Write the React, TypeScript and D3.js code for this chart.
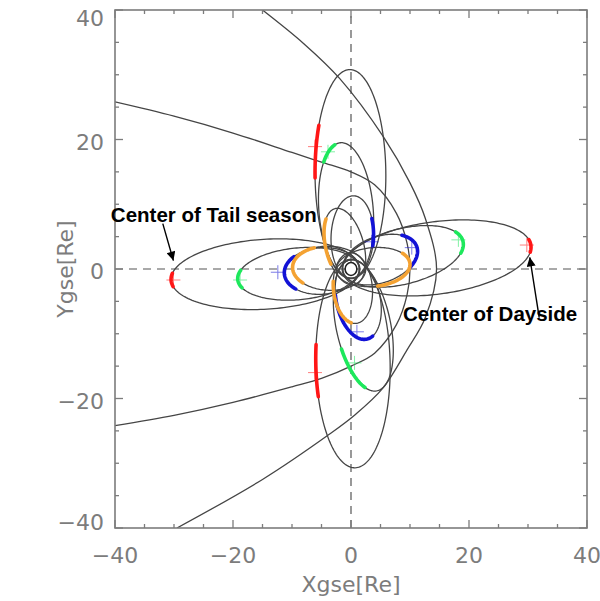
import React from "react";
import * as d3 from "d3";

const W = 600;
const H = 601;
const plot = { left: 115, right: 587, top: 10, bottom: 528 };

// orbit apogee [X, Y] in Re, perigee distance, projected half-width
const tailOrbits = [
  { id: "T1", apo: [-30.5, -1.7], rp: 1.5, b: 5.4 },
  { id: "T2", apo: [-19.2, -1.6], rp: 1.4, b: 4.0 },
  { id: "T3", apo: [-11.3, -0.7], rp: 1.4, b: 3.6 },
  { id: "T4", apo: [-9.9, 0.3], rp: 2.5, b: 3.4 },
];
const daysideOrbits = [
  { id: "D1", apo: [30.5, 3.6], rp: 1.5, b: 5.6 },
  { id: "D2", apo: [19.0, 4.2], rp: 1.4, b: 4.3 },
  { id: "D3", apo: [11.2, 3.3], rp: 1.4, b: 3.6 },
  { id: "D4", apo: [10.0, 0.8], rp: 2.5, b: 3.0 },
];
const duskOrbits = [
  { id: "K1", apo: [-0.2, 30.8], rp: 1.5, b: 6.0 },
  { id: "K2", apo: [-1.8, 19.5], rp: 1.4, b: 4.6 },
  { id: "K3", apo: [0.5, 11.3], rp: 1.4, b: 3.6 },
  { id: "K4", apo: [-2.8, 9.3], rp: 2.5, b: 3.2 },
];
const dawnOrbits = [
  { id: "W1", apo: [0.7, -30.7], rp: 1.5, b: 6.3 },
  { id: "W2", apo: [4.5, -18.8], rp: 1.4, b: 4.6 },
  { id: "W3", apo: [2.8, -10.8], rp: 1.4, b: 3.7 },
  { id: "W4", apo: [0.9, -8.4], rp: 2.5, b: 3.3 },
];

// thick coloured stretches along the orbits (orbit angle from apogee, deg)
const arcs = [
  { orbit: "D1", from: -10, to: 10, color: "red" },
  { orbit: "T1", from: -11, to: 11, color: "red" },
  { orbit: "K1", from: 62, to: 92, color: "red" },
  { orbit: "W1", from: -101, to: -72, color: "red" },
  { orbit: "D2", from: -22, to: 24, color: "green" },
  { orbit: "T2", from: -20, to: 20, color: "green" },
  { orbit: "K2", from: 12, to: 42, color: "green" },
  { orbit: "W2", from: -75, to: -25, color: "green" },
  { orbit: "D3", from: -45, to: 45, color: "blue" },
  { orbit: "T3", from: -44, to: 44, color: "blue" },
  { orbit: "K3", from: -101, to: -62, color: "blue" },
  { orbit: "W3", from: -105, to: 15, color: "blue" },
  { orbit: "T4", from: -65, to: 45, color: "orange" },
  { orbit: "D4", from: -85, to: 35, color: "orange" },
  { orbit: "K4", from: 35, to: 108, color: "orange" },
  { orbit: "W4", from: -105, to: -15, color: "orange" },
];

const markers = [
  { x: 29.8, y: 3.7, color: "red" },
  { x: -30.1, y: -1.7, color: "red" },
  { x: -6.1, y: 18.9, color: "red" },
  { x: -6.1, y: -16.0, color: "red" },
  { x: 18.2, y: 4.5, color: "green" },
  { x: -18.8, y: -1.7, color: "green" },
  { x: -3.9, y: 18.1, color: "green" },
  { x: 0.6, y: -14.5, color: "green" },
  { x: 10.3, y: 3.3, color: "blue" },
  { x: -12.4, y: -0.5, color: "blue" },
  { x: 3.5, y: 4.2, color: "blue" },
  { x: 1.0, y: -9.7, color: "blue" },
];

const magnetopause = [
  [-40, 25.8], [-30, 23.6], [-20, 21.0], [-10, 18.0], [-5, 16.5], [0, 15.0],
  [4, 13.0], [7.7, 8.6], [9.5, 4.0], [10, 0], [9.5, -4.0], [7.7, -8.6],
  [4, -13.0], [0, -15.0], [-5, -16.9], [-10, -18.2], [-20, -20.6],
  [-30, -22.6], [-40, -24.2],
];
const bowShock = [
  [-15, 40], [-8, 34.8], [-1.9, 29.4], [5.5, 20.4], [10, 13.3], [12.6, 7.8],
  [14.5, 0], [12.6, -7.5], [9.5, -12.5], [5.4, -18.4], [0.7, -22.5],
  [-3.8, -25.6], [-15, -32.5], [-29.5, -40],
];

const notes = [
  { text: "Center of Tail season", x: -40.7, y: 7.3, from: [-31.9, 7.0], to: [-30.1, 1.3] },
  { text: "Center of Dayside", x: 8.8, y: -8.0, from: [31.9, -7.5], to: [30.3, 1.8] },
];

const majorTicks = [-40, -20, 0, 20, 40];
const minorTicks = d3.range(-40, 41, 5);

const colors: Record<string, string> = {
  red: "#ff1616",
  green: "#1de85c",
  blue: "#1212d6",
  orange: "#f4a232",
};

const orbits = [...tailOrbits, ...daysideOrbits, ...duskOrbits, ...dawnOrbits];
const orbitById = new Map(orbits.map((o) => [o.id, o]));

function orbitPoints(o: any, t0 = 0, t1 = 360): [number, number][] {
  const [ax, ay] = o.apo;
  const ra = Math.hypot(ax, ay);
  const ux = ax / ra;
  const uy = ay / ra;
  const vx = -uy;
  const vy = ux;
  const a = (ra + o.rp) / 2;
  const cx = (ux * (ra - o.rp)) / 2;
  const cy = (uy * (ra - o.rp)) / 2;
  const n = Math.max(4, Math.ceil(Math.abs(t1 - t0) / 2));
  return d3.range(n + 1).map((i) => {
    const t = ((t0 + ((t1 - t0) * i) / n) * Math.PI) / 180;
    return [
      cx + a * Math.cos(t) * ux + o.b * Math.sin(t) * vx,
      cy + a * Math.cos(t) * uy + o.b * Math.sin(t) * vy,
    ];
  });
}

export default function App() {
  const x = d3.scaleLinear().domain([-40, 40]).range([plot.left, plot.right]);
  const y = d3.scaleLinear().domain([-40, 40]).range([plot.bottom, plot.top]);

  const line = d3
    .line<[number, number]>()
    .x((d) => x(d[0]))
    .y((d) => y(d[1]));
  const smooth = d3
    .line<number[]>()
    .x((d) => x(d[0]))
    .y((d) => y(d[1]))
    .curve(d3.curveCatmullRom);

  const axisColor = "#7c7c7c";
  const labelFont = "DejaVu Sans, sans-serif";

  return (
    <svg
      width={W}
      height={H}
      style={{ position: "absolute", left: 0, top: 0, background: "#fff" }}
    >
      <defs>
        <clipPath id="plotClip">
          <rect
            x={plot.left}
            y={plot.top}
            width={plot.right - plot.left}
            height={plot.bottom - plot.top}
          />
        </clipPath>
        <marker
          id="head"
          viewBox="0 0 10 10"
          refX="10"
          refY="5"
          markerWidth="11"
          markerHeight="9"
          markerUnits="userSpaceOnUse"
          orient="auto"
        >
          <path d="M0,0 L10,5 L0,10 z" fill="#000" />
        </marker>
      </defs>

      <g clipPath="url(#plotClip)">
        {/* zero lines */}
        <line
          x1={x(0)}
          x2={x(0)}
          y1={y(-40)}
          y2={y(40)}
          stroke="#555"
          strokeWidth={1.2}
          strokeDasharray="8,6"
        />
        <line
          x1={x(-40)}
          x2={x(40)}
          y1={y(0)}
          y2={y(0)}
          stroke="#555"
          strokeWidth={1.2}
          strokeDasharray="8,6"
        />

        {/* orbits */}
        {orbits.map((o) => (
          <path
            key={o.id}
            d={line(orbitPoints(o)) || ""}
            fill="none"
            stroke="#454545"
            strokeWidth={1.3}
          />
        ))}

        {/* boundaries */}
        <path d={smooth(magnetopause) || ""} fill="none" stroke="#454545" strokeWidth={1.3} />
        <path d={smooth(bowShock) || ""} fill="none" stroke="#454545" strokeWidth={1.3} />

        {/* coloured arcs */}
        {arcs.map((a, i) => (
          <path
            key={i}
            d={line(orbitPoints(orbitById.get(a.orbit), a.from, a.to)) || ""}
            fill="none"
            stroke={colors[a.color]}
            strokeWidth={3.6}
            strokeLinecap="round"
          />
        ))}

        {/* position crosses */}
        {markers.map((m, i) => (
          <g key={i} stroke={colors[m.color]} strokeWidth={1} opacity={0.55}>
            <line x1={x(m.x) - 7} x2={x(m.x) + 7} y1={y(m.y)} y2={y(m.y)} />
            <line x1={x(m.x)} x2={x(m.x)} y1={y(m.y) - 7} y2={y(m.y) + 7} />
          </g>
        ))}

        {/* Earth */}
        <ellipse
          cx={x(0)}
          cy={y(0)}
          rx={x(1) - x(0)}
          ry={y(0) - y(1)}
          fill="#fff"
          stroke="#222"
          strokeWidth={1.6}
        />
      </g>

      {/* frame */}
      <rect
        x={plot.left}
        y={plot.top}
        width={plot.right - plot.left}
        height={plot.bottom - plot.top}
        fill="none"
        stroke={axisColor}
        strokeWidth={1.6}
      />
      {minorTicks.map((v) => {
        const len = majorTicks.includes(v) ? 8 : 4;
        return (
          <g key={v} stroke={axisColor} strokeWidth={1.3}>
            <line x1={x(v)} x2={x(v)} y1={plot.bottom} y2={plot.bottom - len} />
            <line x1={x(v)} x2={x(v)} y1={plot.top} y2={plot.top + len} />
            <line x1={plot.left} x2={plot.left + len} y1={y(v)} y2={y(v)} />
            <line x1={plot.right} x2={plot.right - len} y1={y(v)} y2={y(v)} />
          </g>
        );
      })}

      {/* tick labels */}
      {majorTicks.map((v) => (
        <text
          key={"x" + v}
          x={x(v)}
          y={563}
          textAnchor="middle"
          fontFamily={labelFont}
          fontSize={22}
          fill={axisColor}
        >
          {d3.format("")(v).replace("-", "\u2212")}
        </text>
      ))}
      {majorTicks.map((v) => (
        <text
          key={"y" + v}
          x={104}
          y={Math.min(Math.max(y(v) + 2, 18), 522) + 8}
          textAnchor="end"
          fontFamily={labelFont}
          fontSize={22}
          fill={axisColor}
        >
          {d3.format("")(v).replace("-", "\u2212")}
        </text>
      ))}

      {/* axis titles */}
      <text
        x={x(0)}
        y={592}
        textAnchor="middle"
        fontFamily={labelFont}
        fontSize={22}
        fill={axisColor}
      >
        Xgse[Re]
      </text>
      <text
        transform={`translate(73,${y(0)}) rotate(-90)`}
        textAnchor="middle"
        fontFamily={labelFont}
        fontSize={22}
        fill={axisColor}
      >
        Ygse[Re]
      </text>

      {/* annotations */}
      {notes.map((n) => (
        <g key={n.text}>
          <line
            x1={x(n.from[0])}
            y1={y(n.from[1])}
            x2={x(n.to[0])}
            y2={y(n.to[1])}
            stroke="#000"
            strokeWidth={1.4}
            markerEnd="url(#head)"
          />
          <text
            x={x(n.x)}
            y={y(n.y)}
            fontFamily="Liberation Sans, Arial, sans-serif"
            fontWeight="bold"
            fontSize={20.5}
            fill="#000"
          >
            {n.text}
          </text>
        </g>
      ))}
    </svg>
  );
}
